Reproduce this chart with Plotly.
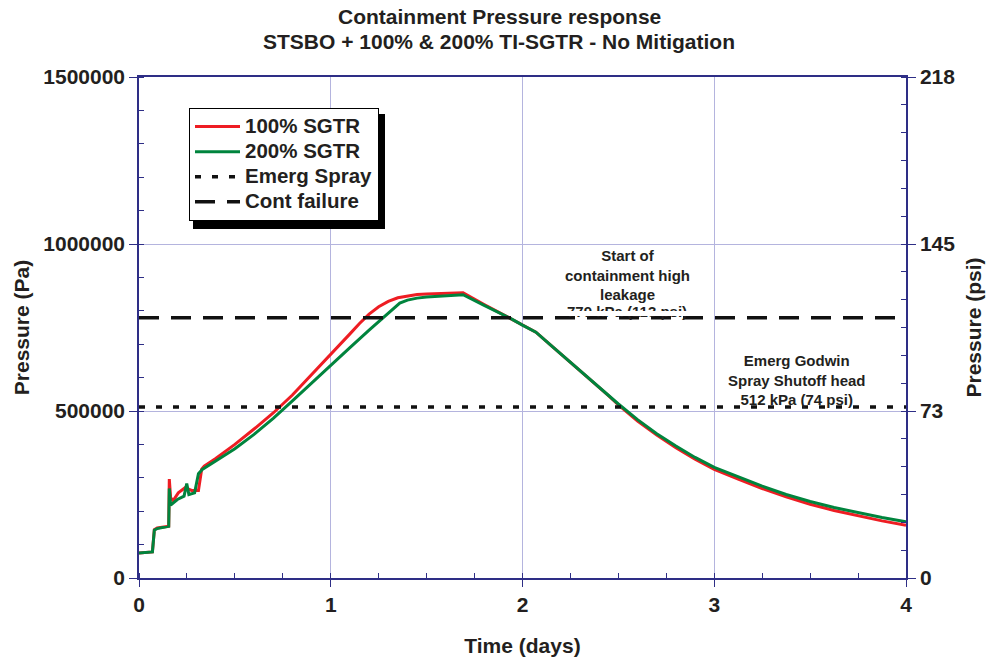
import plotly.graph_objects as go

PA_PER_PSI = 6894.757

# ---- data ----
time_100 = [0, 0.07, 0.08, 0.095, 0.155, 0.158, 0.165, 0.178, 0.205, 0.24, 0.275, 0.31, 0.327, 0.34,
            0.4, 0.5, 0.6, 0.7, 0.8, 0.9, 1.0, 1.1, 1.15, 1.2, 1.25, 1.3, 1.35, 1.4, 1.45, 1.5, 1.6, 1.69,
            1.8, 1.935, 2.0, 2.07, 2.15, 2.25, 2.35, 2.45, 2.5, 2.6, 2.7, 2.8, 2.9, 3.0,
            3.125, 3.25, 3.375, 3.5, 3.625, 3.75, 3.875, 4.0]
p_100 = [75000, 78000, 145000, 150000, 155000, 296000, 240000, 232000, 255000, 270000, 262000, 262000, 326000, 335000,
         358000, 400000, 446000, 494000, 548000, 608000, 670000, 731000, 762000, 790000, 812000, 828000, 839000, 845000, 849000, 850000, 852000, 854000,
         819000, 778000, 757000, 736000, 696000, 646000, 596000, 545000, 518000, 470000, 428000, 390000, 356000, 325000,
         296000, 268000, 243000, 221000, 202000, 186000, 171000, 158000]

time_200 = [0, 0.07, 0.08, 0.095, 0.155, 0.158, 0.165, 0.2, 0.235, 0.249, 0.26, 0.29, 0.31, 0.33,
            0.4, 0.5, 0.6, 0.7, 0.8, 0.9, 1.0, 1.1, 1.2, 1.25, 1.3, 1.33, 1.36, 1.4, 1.45, 1.5, 1.6, 1.69,
            1.8, 1.935, 2.0, 2.07, 2.15, 2.25, 2.35, 2.45, 2.5, 2.6, 2.7, 2.8, 2.9, 3.0,
            3.125, 3.25, 3.375, 3.5, 3.625, 3.75, 3.875, 4.0]
p_200 = [75000, 78000, 143000, 148000, 155000, 268000, 218000, 235000, 245000, 283000, 250000, 255000, 312000, 325000,
         350000, 387000, 430000, 478000, 530000, 584000, 638000, 690000, 742000, 768000, 794000, 810000, 823000, 832000, 838000, 841000, 845000, 848000,
         816000, 778000, 757000, 736000, 696000, 646000, 596000, 546000, 521000, 474000, 432000, 395000, 361000, 331000,
         302000, 275000, 250000, 229000, 211000, 195000, 181000, 168000]

time_range = [0, 4]
emerg_spray_pa = 512000
cont_failure_pa = 779000

x_ticks = [0, 1, 2, 3, 4]
y_ticks_pa = [0, 500000, 1000000, 1500000]
y_tick_labels = ["0", "500000", "1000000", "1500000"]
psi_tick_labels = [str(round(v / PA_PER_PSI)) for v in y_ticks_pa]

series_names = ["100% SGTR", "200% SGTR", "Emerg Spray", "Cont failure"]

# ---- styling ----
FONT = "Arial, Liberation Sans, sans-serif"
NAVY = "#2e2e86"
GRID = "#b4b4de"
RED = "#ee1d23"
GREEN = "#00843d"
TXT = "#231f20"
TICKFONT = dict(family=FONT, size=21, color=TXT, weight="bold")
TITLEFONT = dict(family=FONT, size=21, color=TXT, weight="bold")


def legend_label(name):
    return '<span style="font-size:20.5px">' + name + "</span>"


fig = go.Figure()
fig.add_trace(go.Scatter(x=time_100, y=p_100, mode="lines", name=legend_label(series_names[0]),
                         line=dict(color=RED, width=3)))
fig.add_trace(go.Scatter(x=time_200, y=p_200, mode="lines", name=legend_label(series_names[1]),
                         line=dict(color=GREEN, width=3)))
fig.add_trace(go.Scatter(x=time_range, y=[emerg_spray_pa] * 2, mode="lines", name=legend_label(series_names[2]),
                         line=dict(color="#111111", width=3.5, dash="6px,11px")))
fig.add_trace(go.Scatter(x=time_range, y=[cont_failure_pa] * 2, mode="lines", name=legend_label(series_names[3]),
                         line=dict(color="#111111", width=3.5, dash="20px,12px")))
# right-hand psi axis (carries no visible mark)
fig.add_trace(go.Scatter(x=time_range, y=[cont_failure_pa] * 2, yaxis="y2", mode="lines",
                         line=dict(width=0), opacity=0, showlegend=False, hoverinfo="skip"))

fig.update_layout(
    width=992, height=661,
    margin=dict(l=139, r=86, t=77, b=83, autoexpand=False),
    paper_bgcolor="white", plot_bgcolor="white",
    font=dict(family=FONT, color=TXT),
    showlegend=True,
    legend=dict(x=(189 - 139) / 767, y=(578 - 108) / 501, xanchor="left", yanchor="top",
                bgcolor="white", bordercolor="black", borderwidth=1,
                font=dict(family=FONT, size=17, color=TXT, weight="bold"),
                tracegroupgap=0, itemwidth=45),
    xaxis=dict(range=[0, 4], tickvals=x_ticks, ticks="outside", ticklen=7, tickcolor=NAVY,
               showgrid=True, gridcolor=GRID, gridwidth=1, automargin=False,
               showline=True, linecolor=NAVY, linewidth=1.5, mirror=True, zeroline=False,
               minor=dict(ticks="inside", dtick=0.25, ticklen=5, tickcolor=NAVY, showgrid=False),
               tickfont=TICKFONT,
               title=dict(text="Time (days)", standoff=23, font=TITLEFONT)),
    yaxis=dict(range=[0, 1500000], tickvals=y_ticks_pa, ticktext=y_tick_labels,
               ticks="outside", ticklen=8, tickcolor=NAVY, automargin=False,
               showgrid=True, gridcolor=GRID, gridwidth=1,
               showline=True, linecolor=NAVY, linewidth=1.5, zeroline=False,
               minor=dict(ticks="inside", dtick=100000, ticklen=5, tickcolor=NAVY, showgrid=False),
               tickfont=TICKFONT,
               title=dict(text="Pressure (Pa)", standoff=8, font=TITLEFONT)),
    yaxis2=dict(range=[0, 1500000], overlaying="y", side="right", automargin=False,
                tickvals=y_ticks_pa, ticktext=psi_tick_labels,
                ticks="outside", ticklen=8, tickcolor=NAVY, showgrid=False,
                showline=True, linecolor=NAVY, linewidth=1.5, zeroline=False,
                minor=dict(ticks="inside", dtick=500000 / 6, ticklen=5, tickcolor=NAVY, showgrid=False),
                tickfont=TICKFONT,
                title=dict(text="Pressure (psi)", standoff=12, font=TITLEFONT)),
)

# title lines
TITLE_X = (499 - 139) / 767
fig.add_annotation(text="<b>Containment Pressure response</b>", xref="paper", yref="paper",
                   x=TITLE_X, y=1 + (77 - 17) / 501, yanchor="middle", showarrow=False,
                   font=dict(family=FONT, size=21, color=TXT))
fig.add_annotation(text="<b>STSBO + 100% & 200% TI-SGTR - No Mitigation</b>", xref="paper", yref="paper",
                   x=TITLE_X, y=1 + (77 - 42) / 501, yanchor="middle", showarrow=False,
                   font=dict(family=FONT, size=21, color=TXT))

# in-plot notes
NOTE = dict(family=FONT, size=15, color=TXT)
fig.add_annotation(text="<b>Start of<br>containment high<br>leakage</b>", x=2.545, y=907000,
                   yanchor="middle", showarrow=False, font=NOTE)
fig.add_annotation(text="<b>779 kPa (113 psi)</b>", x=2.545, y=799400,
                   yanchor="middle", showarrow=False, font=NOTE)
fig.add_annotation(text=" ", x=2.545, y=791000, yanchor="middle", width=160, height=5,
                   bgcolor="white", borderpad=0, borderwidth=0, showarrow=False, font=dict(size=4))
fig.add_annotation(text="<b>Emerg Godwin<br>Spray Shutoff head<br>512 kPa (74 psi)</b>", x=3.43, y=594000,
                   yanchor="middle", showarrow=False, font=NOTE)

# legend drop shadow
fig.add_shape(type="rect", xref="paper", yref="paper", layer="above",
              x0=(193 - 139) / 767, x1=(385 - 139) / 767,
              y0=(578 - 229) / 501, y1=(578 - 114) / 501,
              fillcolor="black", line=dict(width=0))

fig.write_html("out.html", config={"displayModeBar": False},
               post_script="document.body.style.margin='0px';")
